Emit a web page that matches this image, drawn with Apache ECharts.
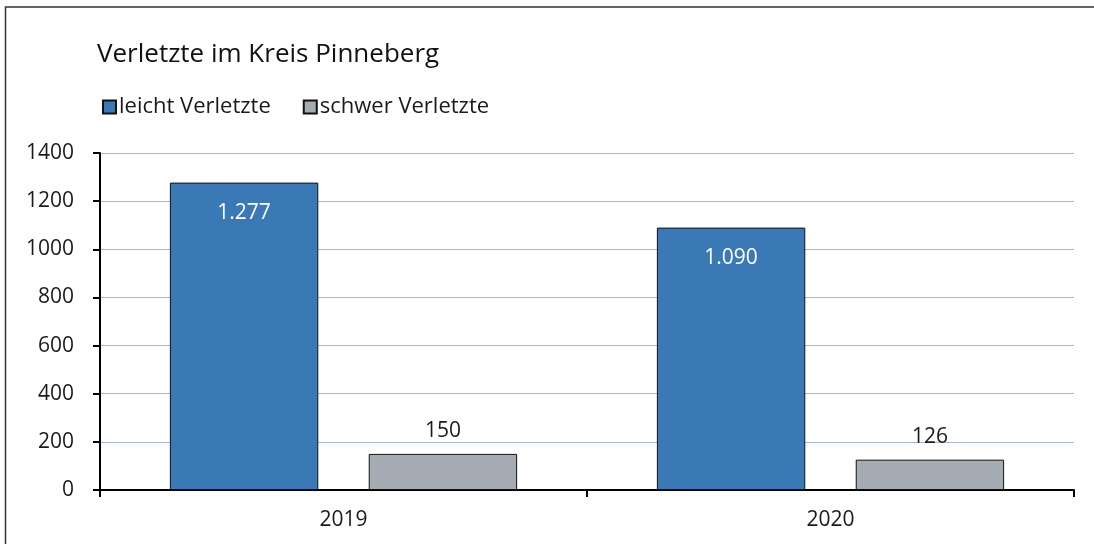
<!DOCTYPE html>
<html>
<head>
<meta charset="utf-8">
<script src="https://cdn.jsdelivr.net/npm/echarts@6/dist/echarts.min.js"></script>
<style>
  html, body { margin: 0; padding: 0; background: #fff; }
  #chart { width: 1094px; height: 544px; }
</style>
</head>
<body>
<div id="chart"></div>
<script>
// Daten
var years = ['2019', '2020'];
var leicht = [1277, 1090];
var schwer = [150, 126];
var seriesNames = ['leicht Verletzte', 'schwer Verletzte'];

var FONT = 'Open Sans';

// Tausenderpunkt (deutsch)
function fmtDe(v) {
  return String(v).replace(/\B(?=(\d{3})+(?!\d))/g, '.');
}

var myChart = echarts.init(document.getElementById('chart'));

var option = {
  backgroundColor: '#fff',
  animation: false,
  textStyle: { fontFamily: FONT },
  title: {
    text: 'Verletzte im Kreis Pinneberg',
    left: 92,
    top: 37,
    textStyle: { fontFamily: FONT, fontSize: 26, fontWeight: 'normal', color: '#111' }
  },
  legend: {
    left: 97,
    top: 91,
    itemWidth: 13,
    itemHeight: 13,
    itemGap: 32,
    icon: 'rect',
    data: seriesNames,
    textStyle: { fontFamily: FONT, fontSize: 22, color: '#1a1a1a', padding: [0, 0, 0, -2] }
  },
  graphic: [{
    type: 'rect',
    shape: { x: 5.5, y: 7, width: 1200, height: 600 },
    style: { fill: 'none', stroke: '#333', lineWidth: 1.5 },
    silent: true
  }],
  grid: { left: 100, right: 20, top: 153, bottom: 54 },
  xAxis: {
    type: 'category',
    data: years,
    axisLine: { lineStyle: { color: '#000', width: 2 } },
    axisTick: { show: true, length: 7, lineStyle: { color: '#000', width: 2 } },
    axisLabel: { fontFamily: FONT, fontSize: 21, color: '#1a1a1a', margin: 20 }
  },
  yAxis: {
    type: 'value',
    min: 0,
    max: 1400,
    interval: 200,
    axisLine: { show: true, lineStyle: { color: '#000', width: 2 } },
    axisTick: { show: true, length: 7, lineStyle: { color: '#000', width: 2 } },
    axisLabel: {
      fontFamily: FONT, fontSize: 21, color: '#1a1a1a', margin: 26,
      formatter: function (v) { return String(v); }
    },
    splitLine: { lineStyle: { color: '#A9B8C8', width: 1 } }
  },
  series: [
    {
      name: seriesNames[0],
      type: 'bar',
      data: leicht,
      barGap: '34%',
      barCategoryGap: '28.7%',
      itemStyle: { color: '#3B78B6', borderColor: '#111', borderWidth: 1 },
      label: {
        show: true,
        position: 'insideTop',
        distance: 20,
        color: '#fff',
        fontFamily: FONT,
        fontSize: 21,
        formatter: function (p) { return fmtDe(p.value); }
      }
    },
    {
      name: seriesNames[1],
      type: 'bar',
      data: schwer,
      itemStyle: { color: '#A5ACB4', borderColor: '#111', borderWidth: 1 },
      label: {
        show: true,
        position: 'top',
        distance: 12,
        color: '#1a1a1a',
        fontFamily: FONT,
        fontSize: 21,
        formatter: function (p) { return fmtDe(p.value); }
      }
    }
  ]
};

myChart.setOption(option);
</script>
</body>
</html>
